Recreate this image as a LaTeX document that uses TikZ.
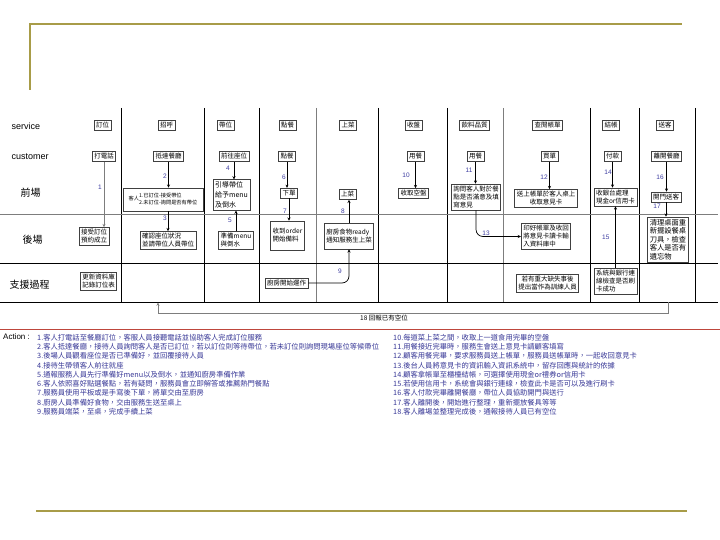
\documentclass[tikz,border=0pt]{standalone}
\usepackage{fontspec}
\setmainfont{Liberation Sans}
\newfontfamily\cjk{Noto Sans CJK TC}
\usetikzlibrary{positioning,arrows.meta,calc}
\definecolor{olivecol}{RGB}{168,156,72}
\definecolor{lanecol}{RGB}{125,125,125}
\definecolor{numcol}{RGB}{60,60,160}
\definecolor{actcol}{RGB}{55,55,150}
\definecolor{redcol}{RGB}{190,70,60}

\begin{document}
\begin{tikzpicture}[
    x=1pt, y=-1pt,
    cbox/.style={draw=black!75, fill=white, line width=0.6pt, inner sep=2pt,
                 font=\cjk\fontsize{6.5}{8}\selectfont, align=center},
    cboxl/.style={cbox, align=left},
    lanelab/.style={anchor=west, font=\fontsize{9}{10}\selectfont},
    lanecjk/.style={anchor=west, font=\cjk\fontsize{10}{11}\selectfont},
    num/.style={font=\fontsize{6.5}{7}\selectfont, color=numcol},
    flow/.style={-{Stealth[length=3.2pt,width=3pt]}, line width=0.7pt},
    sep/.style={line width=0.9pt},
    thinsep/.style={line width=0.9pt, color=lanecol},
    actlist/.style={anchor=north west, inner sep=0pt, align=left, color=actcol,
                    font=\cjk\fontsize{7.3}{9.25}\selectfont},
]
\useasboundingbox (0,0) rectangle (720,540);

% ---- Frame ----
\draw[olivecol, line width=2pt] (30,90) -- (30,24) -- (682,24);
\draw[olivecol, line width=2.5pt] (36,511) -- (687,511);

% ---- Lanes ----
\foreach \x in {121,204,259,378,447,590,639,695}
  \draw[sep] (\x,108) -- (\x,302);
\foreach \x in {316,503}
  \draw[thinsep] (\x,108) -- (\x,302);
\draw[thinsep, line width=0.8pt] (0,214) -- (718,214);
\draw[sep] (0,263) -- (718,263);
\draw[sep] (0,302) -- (718,302);
\draw[redcol, line width=0.8pt] (0,329) -- (720,329);

\node[lanelab] (lsrv) at (8,126) {service};
\node[lanelab] (lcus) at (8,157) {customer};
\node[lanecjk] (lfront) at (17,193) {前場};
\node[lanecjk] (lback) at (19,240) {後場};
\node[lanecjk] (lsup) at (6,285) {支援過程};

% ---- Service row ----
\node[cbox] (s1) at (102.5,125.5) {訂位};
\node[cbox] (s2) at (166.5,125.5) {招呼};
\node[cbox] (s3) at (225.5,125.5) {帶位};
\node[cbox] (s4) at (287.5,125.5) {點餐};
\node[cbox] (s5) at (348,125.5) {上菜};
\node[cbox] (s6) at (413.5,125.5) {收盤};
\node[cbox] (s7) at (474.5,125.5) {飲料品質};
\node[cbox] (s8) at (547.5,125.5) {查閱帳單};
\node[cbox] (s9) at (611,125.5) {結帳};
\node[cbox] (s10) at (665,125.5) {送客};

% ---- Customer row ----
\node[cbox] (c1) at (104,156.5) {打電話};
\node[cbox] (c2) at (168.5,156.5) {抵達餐廳};
\node[cbox] (c3) at (234,156.5) {前往座位};
\node[cbox] (c4) at (287,156.5) {點餐};
\node[cbox] (c5) at (415.5,156.5) {用餐};
\node[cbox] (c6) at (475.5,156.5) {用餐};
\node[cbox] (c7) at (549.5,156.5) {買單};
\node[cbox] (c8) at (612.5,156.5) {付款};
\node[cbox] (c9) at (666.5,156.5) {離開餐廳};

% ---- Front stage ----
\node[cbox, minimum width=80pt, minimum height=23pt, font=\cjk\fontsize{5.2}{6.5}\selectfont] (f2) at (163,199.5)
  {客人\begin{tabular}{@{}l@{}}1.已訂位-接受帶位\\2.未訂位-詢問是否有帶位\end{tabular}};
\node[cboxl, font=\cjk\fontsize{7}{10}\selectfont] (f3) at (231.5,195) {引導帶位\\給予menu\\及倒水};
\node[cbox] (f4) at (289,193) {下單};
\node[cbox] (f5) at (347.5,194.5) {上菜};
\node[cbox] (f6) at (413.5,193.5) {收取空盤};
\node[cboxl] (f7) at (476,197) {詢問客人對於餐\\點是否滿意及填\\寫意見};
\node[cbox] (f8) at (546,198.5) {送上帳單於客人桌上\\收取意見卡};
\node[cboxl] (f9) at (615.5,197) {收銀台處理\\現金or信用卡};
\node[cbox] (f10) at (666,197) {開門送客};

% ---- Back stage ----
\node[cboxl] (b1) at (94,236.5) {接受訂位\\預約成立};
\node[cboxl] (b2) at (168,240.5) {確認座位狀況\\並請帶位人員帶位};
\node[cboxl] (b3) at (236,240) {準備menu\\與倒水};
\node[cboxl, minimum height=29pt] (b4) at (287.5,235.5) {收到order\\開始備料};
\node[cboxl, minimum height=26pt] (b5) at (349,236) {廚房食物ready\\通知服務生上菜};
\node[cboxl] (b8) at (546,236.5) {印好帳單及收回\\將意見卡讀卡輸\\入資料庫中};
\node[cboxl, font=\cjk\fontsize{7.3}{8.6}\selectfont] (b10) at (668,239.5) {清理桌面重\\新擺設餐桌\\刀具，檢查\\客人是否有\\遺忘物};

% ---- Support ----
\node[cboxl] (p1) at (98.5,281.5) {更新資料庫\\記錄訂位表};
\node[cbox] (p4) at (286.5,283) {廚房開始運作};
\node[cbox] (p8) at (547.5,283.5) {若有重大缺失事後\\提出當作為訓練人員};
\node[cboxl] (p9) at (615.5,281.5) {系統與銀行連\\線檢查是否刷\\卡成功};

% ---- Flows ----
\draw[flow, lanecol] (c1.south) -- (c1.south |- b1.north);
\draw[flow] (c2.south) -- (c2.south |- f2.north);
\draw[flow] (b2.north |- f2.south) -- (b2.north);
\draw[flow] (c3.south) -- (c3.south |- f3.north);
\draw[flow] (b3.north) -- (b3.north |- f3.south);
\draw[flow] (c4.south) -- (c4.south |- f4.north);
\draw[flow] (f4.south) -- (f4.south |- b4.north);
\draw[flow] (b5.north) -- (b5.north |- f5.south);
\draw[flow, rounded corners=7pt] (p4.east) -| (b5.south);
\draw[flow] (c5.south) -- (c5.south |- f6.north);
\draw[flow] (c6.south) -- (c6.south |- f7.north);
\draw[flow] (c7.south) -- (c7.south |- f8.north);
\draw[flow, rounded corners=7pt] (f7.south) |- (b8.west);
\draw[flow] (c8.south) -- (c8.south |- f9.north);
\draw[flow] (p9.north) -- (p9.north |- f9.south);
\draw[flow] (c9.south) -- (c9.south |- f10.north);
\draw[flow] (f10.south) -- (f10.south |- b10.north);

\coordinate (r18) at (668,302);
\coordinate (l18) at (158,302.5);
\draw[flow, lanecol, line width=0.6pt] (r18) -- ++(0,11) -| (l18);

\node[num] (n1) at (100,187) {1};
\node[num] (n2) at (165,176) {2};
\node[num] (n3) at (165,218) {3};
\node[num] (n4) at (228,168) {4};
\node[num] (n5) at (230,220) {5};
\node[num] (n6) at (284,177) {6};
\node[num] (n7) at (285,211) {7};
\node[num] (n8) at (343,211) {8};
\node[num] (n9) at (340,271) {9};
\node[num] (n10) at (406,175) {10};
\node[num] (n11) at (469,170) {11};
\node[num] (n12) at (544,177) {12};
\node[num] (n13) at (486,233) {13};
\node[num] (n14) at (608,172) {14};
\node[num, anchor=east] (n15) at (613,237) {15};
\node[num] (n16) at (660,177) {16};
\node[num] (n17) at (657,206) {17};
\node[anchor=west, inner sep=0pt, font=\cjk\fontsize{6.5}{7}\selectfont] (n18) at (360,318) {18 回報已有空位};

% ---- Actions ----
\node[anchor=north west, inner sep=0pt, font=\fontsize{8}{9}\selectfont] (actlab) at (3,334) {Action :};
\node[actlist] (actL) at (37,334) {
  1.客人打電話至餐廳訂位，客服人員接聽電話並協助客人完成訂位服務\\
  2.客人抵達餐廳，接待人員詢問客人是否已訂位，若以訂位則等待帶位，若未訂位則詢問現場座位等候帶位\\
  3.後場人員觀看座位是否已準備好，並回覆接待人員\\
  4.接待生帶領客人前往就座\\
  5.通報服務人員先行準備好menu以及倒水，並通知廚房準備作業\\
  6.客人依照喜好點選餐點，若有疑問，服務員會立即解答或推薦熱門餐點\\
  7.服務員使用平板或是手寫後下單，將單交由至廚房\\
  8.廚房人員準備好食物，交由服務生送至桌上\\
  9.服務員端菜，至桌，完成手續上菜
};
\node[actlist] (actR) at (393,334) {
  10.每道菜上菜之間，收取上一道食用完畢的空盤\\
  11.用餐接近完畢時，服務生會送上意見卡請顧客填寫\\
  12.顧客用餐完畢，要求服務員送上帳單，服務員送帳單時，一起收回意見卡\\
  13.後台人員將意見卡的資訊輸入資訊系統中，留存回應與統計的依據\\
  14.顧客拿帳單至櫃檯結帳，可選擇使用現金or禮券or信用卡\\
  15.若使用信用卡，系統會與銀行連線，檢查此卡是否可以及進行刷卡\\
  16.客人付款完畢離開餐廳，帶位人員協助開門與送行\\
  17.客人離開後，開始進行整理，重新擺放餐具等等\\
  18.客人離場並整理完成後，通報接待人員已有空位
};

\end{tikzpicture}
\end{document}
